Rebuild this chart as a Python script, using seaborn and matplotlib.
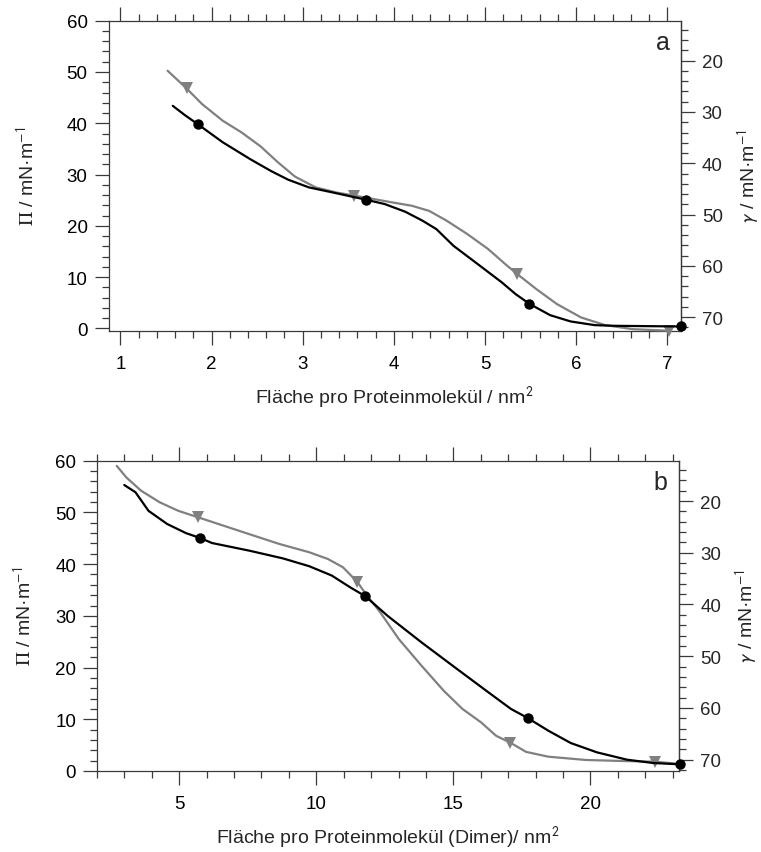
import matplotlib
matplotlib.use("Agg")
import matplotlib.pyplot as plt
import seaborn as sns
from matplotlib.ticker import MultipleLocator, FixedLocator

# ---------------- data ----------------
# panel a  (area per protein molecule / nm^2, surface pressure Pi / mN m^-1)
a_black_x = [1.575, 1.707, 1.851, 2.123, 2.425, 2.652, 2.841, 3.068, 3.333, 3.695, 3.90, 4.126, 4.315,
             4.467, 4.655, 4.92, 5.185, 5.336, 5.487, 5.714, 5.94, 6.205, 6.43, 7.15]
a_black_y = [43.4, 41.6, 39.8, 36.3, 33.0, 30.7, 29.0, 27.5, 26.5, 25.1, 24.25, 22.75, 21.0,
             19.36, 16.1, 12.55, 8.97, 6.69, 4.8, 2.59, 1.36, 0.64, 0.51, 0.38]
a_black_marks = [2, 9, 18, 23]

a_gray_x = [1.518, 1.726, 1.896, 2.123, 2.331, 2.538, 2.728, 2.916, 3.143, 3.37, 3.567, 3.975, 4.202,
            4.39, 4.58, 4.806, 5.033, 5.222, 5.354, 5.563, 5.79, 6.054, 6.319, 6.62, 7.018]
a_gray_y = [50.25, 46.8, 43.75, 40.5, 38.2, 35.5, 32.4, 29.6, 27.5, 26.5, 25.9, 24.6, 23.9,
            22.9, 21.0, 18.4, 15.5, 12.55, 10.6, 7.67, 4.74, 2.14, 0.64, -0.14, -0.45]
a_gray_marks = [1, 10, 18, 24]

# panel b  (area per protein molecule (dimer) / nm^2)
b_black_x = [2.995, 3.403, 3.88, 4.56, 5.244, 5.762, 6.196, 7.56, 8.788, 9.74, 10.56, 11.24, 11.785,
             12.6, 13.83, 15.05, 16.28, 17.1, 17.71, 18.46, 19.28, 20.24, 21.33, 22.28, 23.26]
b_black_y = [55.3, 53.9, 50.3, 47.76, 46.0, 45.05, 44.08, 42.6, 41.1, 39.6, 37.8, 35.5, 33.8,
             30.0, 24.9, 20.05, 15.2, 12.0, 10.25, 7.8, 5.41, 3.6, 2.19, 1.55, 1.29]
b_black_marks = [5, 12, 18, 24]

b_gray_x = [2.72, 3.064, 3.607, 4.29, 4.97, 5.69, 7.15, 8.65, 9.74, 10.42, 10.97, 11.49, 11.85, 12.33,
            13.01, 13.83, 14.65, 15.33, 16.01, 16.56, 17.07, 17.65, 18.46, 19.83, 21.19, 22.35, 23.26]
b_gray_y = [59.0, 56.8, 54.2, 51.95, 50.3, 49.05, 46.5, 43.9, 42.3, 41.0, 39.4, 36.6, 33.9, 30.7,
            25.5, 20.4, 15.5, 12.0, 9.4, 6.8, 5.5, 3.7, 2.77, 2.13, 1.93, 1.8, 1.35]
b_gray_marks = [5, 11, 20, 25]

GAMMA0 = 72.2  # gamma = GAMMA0 - Pi

xlabel_a = "Fläche pro Proteinmolekül / nm$^{\\mathsf{2}}$"
xlabel_b = "Fläche pro Proteinmolekül (Dimer)/ nm$^{\\mathsf{2}}$"
ylabel_left = "$\\Pi$ / mN·m$^{\\mathsf{-1}}$"
ylabel_right = "$\\mathsf{\\gamma}$ / mN·m$^{\\mathsf{-1}}$"
right_ticks = [20, 30, 40, 50, 60, 70]

# ---------------- style ----------------
sns.set_theme(style="ticks")
plt.rcParams["font.family"] = ["Liberation Sans", "DejaVu Sans"]
plt.rcParams["mathtext.fontset"] = "stix"

SPINE = "#3a3a3a"
GRAY = "#808080"
TICKFS = 13.5
LABELFS = 14

fig = plt.figure(figsize=(7.61, 8.53), dpi=100)
ax_a = fig.add_axes([108.5 / 761, 1 - 332 / 853, (681 - 108.5) / 761, (332 - 21.7) / 853])
ax_b = fig.add_axes([97 / 761, 1 - 772 / 853, (679.3 - 97) / 761, (772 - 461.7) / 853])


def style_axes(ax, xlim, ylim, xmajor, xminor, label, xlabel, ypad):
    ax.set_xlim(*xlim)
    ax.set_ylim(*ylim)
    ax.xaxis.set_major_locator(MultipleLocator(xmajor))
    ax.xaxis.set_minor_locator(MultipleLocator(xminor))
    ax.yaxis.set_major_locator(MultipleLocator(10))
    ax.yaxis.set_minor_locator(MultipleLocator(2))
    for s in ax.spines.values():
        s.set_color(SPINE)
        s.set_linewidth(0.9)
    ax.tick_params(axis="both", which="major", direction="out", length=10, width=0.9,
                   color=SPINE, labelsize=TICKFS, pad=5, labelcolor="black")
    ax.tick_params(axis="both", which="minor", direction="out", length=5, width=0.9, color=SPINE)
    ax.tick_params(axis="x", which="both", top=True, labeltop=False)
    ax.tick_params(axis="x", which="major", pad=7)
    ax.tick_params(axis="y", which="both", right=False)
    ax.set_xlabel(xlabel, fontsize=LABELFS, labelpad=9)
    ax.set_ylabel(ylabel_left, fontsize=LABELFS, labelpad=ypad)
    ax.text(0.98, 0.93, label, transform=ax.transAxes, ha="right", va="center", fontsize=18)

    sec = ax.secondary_yaxis("right", functions=(lambda p: GAMMA0 - p, lambda g: GAMMA0 - g))
    sec.yaxis.set_major_locator(FixedLocator(right_ticks))
    sec.yaxis.set_minor_locator(MultipleLocator(2))
    sec.spines["right"].set_color(SPINE)
    sec.spines["right"].set_linewidth(0.9)
    sec.tick_params(axis="y", which="major", direction="out", length=10, width=0.9,
                    color=SPINE, labelsize=TICKFS, pad=5)
    sec.tick_params(axis="y", which="minor", direction="out", length=5, width=0.9, color=SPINE)
    sec.set_ylabel(ylabel_right, fontsize=LABELFS, labelpad=9)


def draw(ax, x, y, marks, color, marker):
    sns.lineplot(x=x, y=y, ax=ax, sort=False, estimator=None, color=color, linewidth=1.6,
                 marker=marker, markevery=marks, markersize=7.5 if marker == "o" else 9,
                 markeredgewidth=0, clip_on=False, zorder=3)


draw(ax_a, a_gray_x, a_gray_y, a_gray_marks, GRAY, "v")
draw(ax_a, a_black_x, a_black_y, a_black_marks, "black", "o")
draw(ax_b, b_gray_x, b_gray_y, b_gray_marks, GRAY, "v")
draw(ax_b, b_black_x, b_black_y, b_black_marks, "black", "o")

style_axes(ax_a, (0.87, 7.15), (-0.5, 60), 1, 0.2, "a", xlabel_a, 20)
style_axes(ax_b, (2.0, 23.24), (0, 60), 5, 1, "b", xlabel_b, 14)

fig.savefig("out.png", dpi=100)
